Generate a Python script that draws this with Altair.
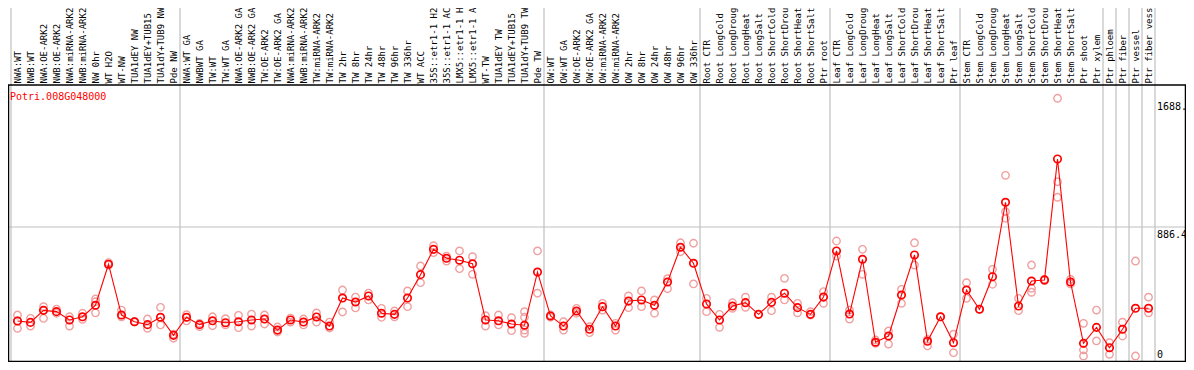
import altair as alt
import pandas as pd

labels = [
    "NWA:WT", "NWB:WT", "NWA:OE-ARK2", "NWB:OE-ARK2", "NWA:miRNA-ARK2", "NWB:miRNA-ARK2",
    "NW 0hr", "WT H2O", "WT-NW", "TUA1dEY NW", "TUA1dEY+TUB15", "TUA1dY+TUB9 NW", "Pde NW",
    "NWA:WT GA", "NWBWT GA", "TW:WT", "TW:WT GA", "NWA:OE-ARK2 GA", "NWB:OE-ARK2 GA",
    "TW:OE-ARK2", "TW:OE-ARK2 GA", "NWA:miRNA-ARK2", "NWB:miRNA-ARK2", "TW:miRNA-ARK2",
    "TW:miRNA-ARK2", "TW 2hr", "TW 8hr", "TW 24hr", "TW 48hr", "TW 96hr", "TW 336hr",
    "WT ACC", "35S::etr1-1 H2", "35S::etr1-1 AC", "LMX5::etr1-1 H", "LMX5::etr1-1 A",
    "WT-TW", "TUA1dEY TW", "TUA1dEY+TUB15", "TUA1dY+TUB9 TW", "Pde TW",
    "OW:WT", "OW:WT GA", "OW:OE-ARK2", "OW:OE-ARK2 GA", "OW:miRNA-ARK2", "OW:miRNA-ARK2",
    "OW 2hr", "OW 8hr", "OW 24hr", "OW 48hr", "OW 96hr", "OW 336hr",
    "Root CTR", "Root LongCold", "Root LongDroug", "Root LongHeat", "Root LongSalt",
    "Root ShortCold", "Root ShortDrou", "Root ShortHeat", "Root ShortSalt", "Ptr root",
    "Leaf CTR", "Leaf LongCold", "Leaf LongDroug", "Leaf LongHeat", "Leaf LongSalt",
    "Leaf ShortCold", "Leaf ShortDrou", "Leaf ShortHeat", "Leaf ShortSalt", "Ptr leaf",
    "Stem CTR", "Stem LongCold", "Stem LongDroug", "Stem LongHeat", "Stem LongSalt",
    "Stem ShortCold", "Stem ShortDrou", "Stem ShortHeat", "Stem ShortSalt", "Ptr shoot",
    "Ptr xylem", "Ptr phloem", "Ptr fiber", "Ptr vessel", "Ptr fiber vess",
]

means = [
    300, 291, 366, 358, 306, 326, 398, 654, 337, 295, 277, 323, 210,
    323, 277, 301, 289, 295, 306, 312, 243, 306, 293, 325, 268, 443, 418, 456, 348, 341,
    443, 589, 747, 691, 679, 657, 306, 301, 281, 273, 605,
    331, 268, 362, 248, 389, 268, 424, 431, 398, 543, 760, 660,
    406, 306, 393, 414, 341, 416, 473, 383, 341, 449,
    737, 343, 685, 167, 206, 462, 712, 173, 326, 164,
    493, 373, 576, 1041, 393, 549, 556, 1311, 543, 160,
    260, 133, 248, 379, 379,
]

replicates = [
    [337, 300, 254], [316, 268], [389, 366, 316], [374, 348], [326, 268], [348, 310],
    [437, 420, 351], [664, 649], [368, 326], [295, 295], [312, 254], [385, 275], [217, 192],
    [339, 300], [285, 264], [326, 270], [314, 275], [335, 258], [343, 268], [337, 281],
    [262, 231], [318, 293], [312, 275], [350, 293], [293, 256], [493, 356], [449, 381],
    [474, 431], [379, 323], [362, 326], [487, 389], [643, 539], [770, 726], [705, 674],
    [737, 626], [701, 591], [333, 268], [337, 275], [320, 239], [358, 323, 243, 223],
    [737, 473], [337, 323], [295, 243], [379, 348], [264, 227], [410, 368], [285, 243],
    [456, 383], [487, 389], [431, 348], [564, 501], [788, 732], [785, 531], [441, 358],
    [341, 260], [414, 379], [448, 385], [341], [448, 364], [566, 431], [410, 351],
    [358, 337], [483, 410], [799, 705], [368, 312], [747, 591], [181, 160], [237, 156],
    [497, 410], [788, 649], [185, 144], [326], [217, 102], [539, 441], [373], [622, 529],
    [1209, 982, 941], [441, 364], [649, 504, 479], [560, 552], [1690, 1169, 1072],
    [560, 531], [285, 119, 81], [368, 175], [164, 92], [292, 206], [674, 81], [448, 351],
]

group_ends = [12, 40, 52, 62, 72, 83, 84, 85, 86, 87]   # separator after these columns
gene_name = "Potri.008G048000"
grid_value = 886.4
y_max = 1772.8
tick_values = [1688.0, 886.4]
tick_texts = ["1688.", "886.4"]

W, H = 1144, 277
YR = 284
FONT = "DejaVu Sans Mono"

keys = [f"{i:02d}|{lab}" for i, lab in enumerate(labels)]
mean_df = pd.DataFrame({"key": keys, "v": means})
rep_df = pd.DataFrame(
    [{"key": keys[i], "v": r} for i, rs in enumerate(replicates) for r in rs]
)
sep_df = pd.DataFrame({"key": [keys[i] for i in group_ends]})
first_df = pd.DataFrame({"key": [keys[0]]})
one = pd.DataFrame({"d": [0]})

xscale = alt.Scale(type="band", domain=keys, paddingInner=0, paddingOuter=0)
xaxis = alt.Axis(
    orient="top", labelAngle=270, labelAlign="left", labelBaseline="middle",
    labelExpr="split(datum.value, '|')[1]", labelFont=FONT, labelFontSize=9,
    labelColor="black", labelPadding=2, labelLimit=300, labelOverlap=False,
    labelBound=False, ticks=False, domain=False, grid=False, title=None,
)
yscale = alt.Scale(domain=[0, y_max], range=[YR, 0], nice=False, zero=False)


def X(**kw):
    return alt.X("key:N", scale=xscale, axis=xaxis, **kw)


def Y():
    return alt.Y("v:Q", scale=yscale, axis=None)


gray = "#C0C0C0"

seps = alt.Chart(sep_df).mark_rule(color=gray, strokeWidth=1.2).encode(
    x=X(bandPosition=1), y=alt.value(-77), y2=alt.value(H)
)
first_sep = alt.Chart(first_df).mark_rule(color=gray, strokeWidth=1.2).encode(
    x=X(bandPosition=0), y=alt.value(-77), y2=alt.value(H)
)
hgrid = alt.Chart(pd.DataFrame({"v": [grid_value]})).mark_rule(
    color=gray, strokeWidth=1.2
).encode(y=Y(), x=alt.value(-3), x2=alt.value(1175))

top_line = alt.Chart(one).mark_rule(color="black", strokeWidth=1.5).encode(
    x=alt.value(-3), x2=alt.value(1175), y=alt.value(0)
)
bottom_line = alt.Chart(one).mark_rule(color="black", strokeWidth=1.5).encode(
    x=alt.value(-3), x2=alt.value(1175), y=alt.value(H - 0.5)
)
left_line = alt.Chart(one).mark_rule(color="black", strokeWidth=1.5).encode(
    x=alt.value(-2.5), y=alt.value(0), y2=alt.value(H)
)
right_line = alt.Chart(one).mark_rule(color="black", strokeWidth=1.5).encode(
    x=alt.value(1174.5), y=alt.value(0), y2=alt.value(H)
)

reps = alt.Chart(rep_df).mark_point(
    shape="circle", filled=False, color="#F0A0A0", size=55, strokeWidth=1.4, opacity=1
).encode(x=X(), y=Y())

line = alt.Chart(mean_df).mark_line(color="#FF0000", strokeWidth=1.1).encode(x=X(), y=Y())
pts = alt.Chart(mean_df).mark_point(
    shape="circle", filled=False, color="#FF0000", size=55, strokeWidth=1.7, opacity=1
).encode(x=X(), y=Y())

tick_df = pd.DataFrame({"v": tick_values, "t": tick_texts})
ticks_top = alt.Chart(tick_df).mark_text(
    align="left", baseline="top", dy=3, font=FONT, fontSize=10, color="black"
).encode(y=Y(), x=alt.value(1146), text="t:N")
zero_lab = alt.Chart(pd.DataFrame({"t": ["0"]})).mark_text(
    align="left", baseline="bottom", font=FONT, fontSize=10, color="black"
).encode(y=alt.value(H - 2), x=alt.value(1146), text="t:N")

gene = alt.Chart(pd.DataFrame({"t": [gene_name]})).mark_text(
    align="left", baseline="middle", font=FONT, fontSize=10, color="#FF0000"
).encode(x=alt.value(-1), y=alt.value(12), text="t:N")

chart = alt.layer(
    first_sep, seps, hgrid, top_line, bottom_line, left_line, right_line,
    reps, line, pts, ticks_top, zero_lab, gene,
).properties(
    width=W, height=H,
    padding={"left": 3, "top": 77, "right": 31, "bottom": 0},
    autosize=alt.AutoSizeParams(type="none"),
).configure_view(stroke=None)

chart.save("out.html", embed_options={"renderer": "svg", "actions": False})
